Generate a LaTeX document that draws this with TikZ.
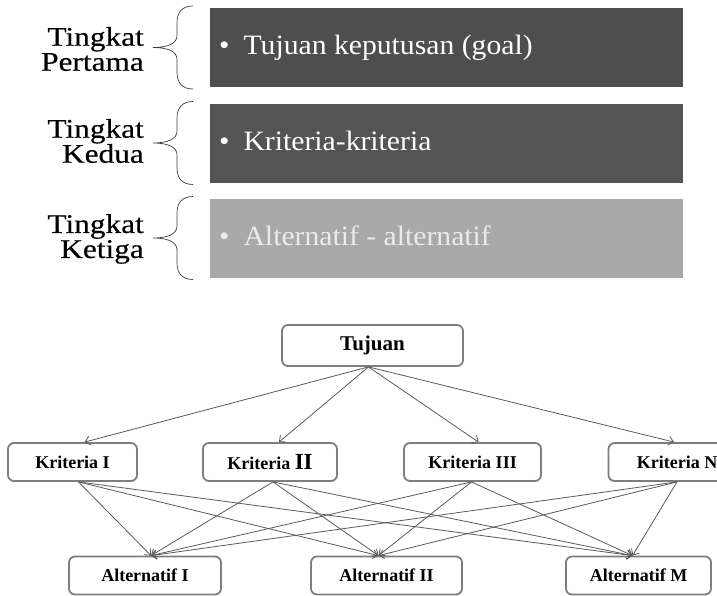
\documentclass[tikz,border=0pt]{standalone}
\usepackage{fontspec}
\setmainfont{Liberation Serif}
\newfontfamily\levelfont[FakeStretch=1.16, FakeBold=0.4]{Liberation Serif}
\newfontfamily\bandfont[FakeStretch=1.06]{Liberation Serif}
\usetikzlibrary{arrows.meta}

\definecolor{bandA}{HTML}{4E4E4E}
\definecolor{bandB}{HTML}{545454}
\definecolor{bandC}{HTML}{A9A9A9}
\definecolor{boxline}{HTML}{7E7E7E}
\definecolor{linkline}{HTML}{5A5A5A}

\begin{document}
\begin{tikzpicture}[x=1pt,y=-1pt,
  band/.style={draw=none, minimum width=473pt, minimum height=79pt, inner sep=0pt},
  bandtext/.style={anchor=base west, text=white, inner sep=0pt,
    font=\bandfont\fontsize{28}{28}\selectfont},
  level/.style={align=right, anchor=east, inner sep=0pt,
    font=\levelfont\fontsize{27}{25}\selectfont},
  bracket/.style={draw=black!75, line width=0.7pt},
  box/.style={draw=boxline, line width=1.8pt, rounded corners=6pt, fill=white,
    inner sep=0pt, minimum height=38pt, font=\bfseries\fontsize{18}{18}\selectfont},
  link/.style={draw=linkline, line width=0.8pt,
    -{Straight Barb[length=5pt,width=9pt]}},
]
\useasboundingbox (0,0) rectangle (717,595);

% ---- the three levels of the hierarchy ----
\node[band, fill=bandA] (g1) at (446.5,47.5) {};
\node[band, fill=bandB] (g2) at (446.5,143) {};
\node[band, fill=bandC] (g3) at (446.5,238) {};

\node[bandtext] (t1) at (219,54.5) {\textbullet\hspace{14pt}Tujuan keputusan (goal)};
\node[bandtext] (t2) at (219,150) {\textbullet\hspace{14pt}Kriteria-kriteria};
\node[bandtext, text=white!92!black] (t3) at (219,245.5) {\textbullet\hspace{14pt}Alternatif - alternatif};

\node[level] (l1) at (144,49) {Tingkat\\Pertama};
\node[level] (l2) at (144,141) {Tingkat\\Kedua};
\node[level] (l3) at (144,239) {Tingkat\\Ketiga};

% curly brackets between labels and bands
\foreach \c in {47.5,143,238} {
  \draw[bracket] (193,{\c-41.5}) .. controls (182,{\c-41.5}) and (177,{\c-35}) .. (177,{\c-25})
    -- (177,{\c-12}) .. controls (177,{\c-4}) and (168,\c) .. (153,\c)
    .. controls (168,\c) and (177,{\c+4}) .. (177,{\c+12})
    -- (177,{\c+25}) .. controls (177,{\c+35}) and (182,{\c+41.5}) .. (193,{\c+41.5});
}

% ---- hierarchy tree ----
\node[box, minimum width=181pt, minimum height=41pt, font=\bfseries\fontsize{21}{21}\selectfont] (goal) at (372.5,345.5) {Tujuan};

\node[box, minimum width=129pt] (k1) at (72.5,462) {Kriteria I};
\node[box, minimum width=134pt] (k2) at (270,462) {Kriteria {\fontsize{23}{23}\selectfont II}};
\node[box, minimum width=137pt] (k3) at (472.5,462) {Kriteria III};
\node[box, minimum width=137pt] (k4) at (677,462) {Kriteria N};

\node[box, minimum width=152pt] (a1) at (145,575.5) {Alternatif I};
\node[box, minimum width=151pt] (a2) at (386.5,575.5) {Alternatif II};
\node[box, minimum width=145pt] (a3) at (638.5,575.5) {Alternatif M};

\coordinate (gs) at ([xshift=-4pt]goal.south);
\draw[link] (gs) -- ([xshift=12pt]k1.north);
\draw[link] (gs) -- ([xshift=9pt]k2.north);
\draw[link] (gs) -- ([xshift=6pt]k3.north);
\draw[link] (gs) -- ([xshift=-3pt]k4.north);

\foreach \k/\s in {k1/6,k2/3,k3/-1,k4/0} {
  \draw[link] ([xshift=\s pt]\k.south) -- ([xshift=6pt]a1.north);
  \draw[link] ([xshift=\s pt]\k.south) -- ([xshift=-8pt]a2.north);
  \draw[link] ([xshift=\s pt]\k.south) -- ([xshift=-6pt]a3.north);
}
\end{tikzpicture}
\end{document}
